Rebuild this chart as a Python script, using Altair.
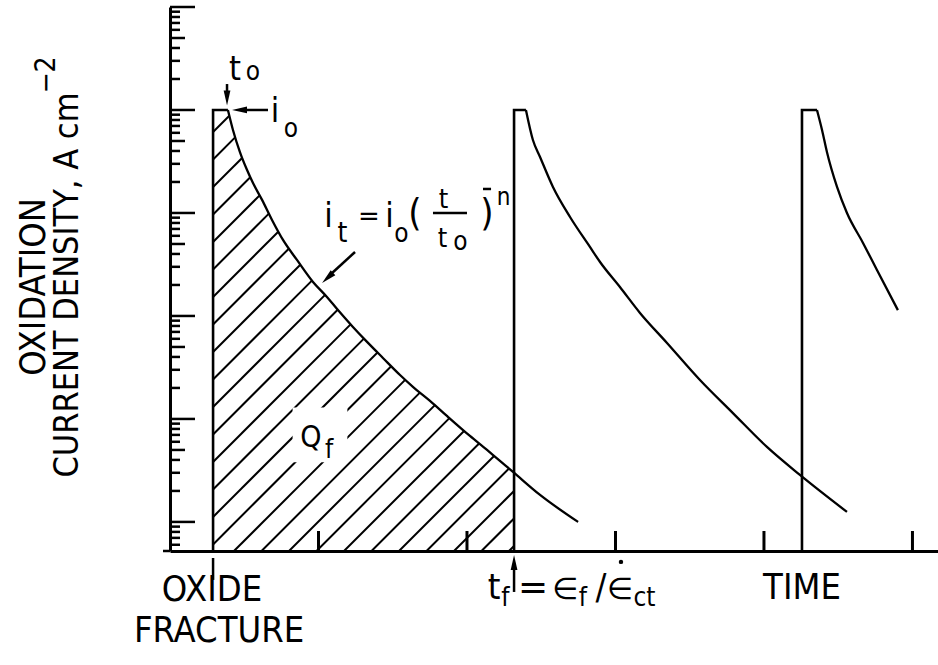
import math
import numpy as np
import pandas as pd
import altair as alt

# ---------------- data ----------------
# time in arbitrary units (x ticks at 1..5), current density on a log axis
T_MAX = 5.172
I_TOP = 1e-1
I_BOTTOM = 5.22e-7
I_PEAK = 1e-2          # i_o

pulse_start = [0.29, 2.317, 4.256]     # oxide fracture instants

curve1_t = [0.39, 0.424, 0.471, 0.519, 0.559, 0.62, 0.687, 0.761, 0.855, 0.963,
            1.057, 1.131, 1.232, 1.327, 1.434, 1.549, 1.636, 1.751, 1.865, 2.02,
            2.135, 2.202, 2.31, 2.492, 2.748]
curve1_i = [1.0e-2, 6.4e-3, 3.9e-3, 2.61e-3, 1.95e-3, 1.34e-3, 8.55e-4, 5.47e-4,
            3.5e-4, 2.14e-4, 1.53e-4, 1.14e-4, 7.82e-5, 5.6e-5, 3.91e-5, 2.67e-5,
            2.05e-5, 1.5e-5, 1.07e-5, 6.84e-6, 5.0e-6, 4.14e-6, 3.06e-6, 1.83e-6, 1.0e-6]

curve2_t = [2.397, 2.444, 2.492, 2.579, 2.694, 2.828, 2.896, 3.03, 3.165, 3.347,
            3.569, 3.791, 4.02, 4.242, 4.559]
curve2_i = [1.0e-2, 5.11e-3, 3.5e-3, 1.79e-3, 9.14e-4, 4.68e-4, 3.34e-4, 1.91e-4,
            1.07e-4, 5.47e-5, 2.39e-5, 1.14e-5, 5.35e-6, 2.86e-6, 1.25e-6]

curve3_t = [4.357, 4.391, 4.424, 4.492, 4.559, 4.667, 4.761, 4.902]
curve3_i = [1.0e-2, 6.4e-3, 3.91e-3, 1.79e-3, 1.0e-3, 5.12e-4, 2.80e-4, 1.14e-4]

x_tick_values = [1, 2, 3, 4, 5]

# ---------------- layout / style ----------------
W, H = 768, 544
FONT = "Liberation Sans Narrow, Arial Narrow, DejaVu Sans Condensed, sans-serif"
FONT_SYM = "DejaVu Sans"
BLACK = "#000000"
ARROW = "M0,-1L0.45,1L-0.45,1Z"

LOG_TOP = math.log10(I_TOP)
LOG_BOT = math.log10(I_BOTTOM)


def to_px(t, i):
    return t / T_MAX * W, (LOG_TOP - math.log10(i)) / (LOG_TOP - LOG_BOT) * H


def from_px(x, y):
    return x / W * T_MAX, 10 ** (LOG_TOP - y / H * (LOG_TOP - LOG_BOT))


x_scale = alt.Scale(domain=[0, T_MAX], nice=False, zero=False)
y_scale = alt.Scale(type="log", domain=[I_BOTTOM, I_TOP], nice=False)
x_axis = alt.Axis(title=None, labels=False, ticks=False, grid=False,
                  domainColor=BLACK, domainWidth=3)
y_axis = alt.Axis(title=None, labels=False, ticks=False, grid=False,
                  domainColor=BLACK, domainWidth=3)


def X(f):
    return alt.X(f, type="quantitative", scale=x_scale, axis=x_axis)


def Y(f):
    return alt.Y(f, type="quantitative", scale=y_scale, axis=y_axis)


# ---------------- frames (vertical rise + flat top) and decays ----------------
frows, crows = [], []
for p, (s, ct, ci) in enumerate(zip(pulse_start, [curve1_t, curve2_t, curve3_t],
                                    [curve1_i, curve2_i, curve3_i])):
    frows += [dict(pulse=p, ord=0, t=s, i=I_BOTTOM), dict(pulse=p, ord=1, t=s, i=I_PEAK),
              dict(pulse=p, ord=2, t=ct[0], i=ci[0])]
    for k, (t, i) in enumerate(zip(ct, ci)):
        crows.append(dict(pulse=p, ord=k, t=t, i=i))
frame_df = pd.DataFrame(frows)
curves_df = pd.DataFrame(crows)


# ---------------- hatching of Q_f (45 deg lines clipped to the region) ----------------
# top boundary follows the same monotone-x cubic that Vega draws for the curve
def monotone_tangents(xs, ys):
    n = len(xs)
    tg = [0.0] * n
    for k in range(1, n - 1):
        h0, h1 = xs[k] - xs[k - 1], xs[k + 1] - xs[k]
        s0, s1 = (ys[k] - ys[k - 1]) / h0, (ys[k + 1] - ys[k]) / h1
        pp = (s0 * h1 + s1 * h0) / (h0 + h1)
        tg[k] = (np.sign(s0) + np.sign(s1)) * min(abs(s0), abs(s1), 0.5 * abs(pp))
    tg[0] = (3 * (ys[1] - ys[0]) / (xs[1] - xs[0]) - tg[1]) / 2
    tg[-1] = (3 * (ys[-1] - ys[-2]) / (xs[-1] - xs[-2]) - tg[-2]) / 2
    return tg


CP = [to_px(t, i) for t, i in zip(curve1_t, curve1_i)]
cx = [p[0] for p in CP]
cy = [p[1] for p in CP]
ctg = monotone_tangents(cx, cy)
xl = to_px(pulse_start[0], I_PEAK)[0]
xr = to_px(pulse_start[1], I_PEAK)[0]
y_peak = to_px(0, I_PEAK)[1]


def top(x):
    if x <= cx[0]:
        return y_peak
    k = min(int(np.searchsorted(cx, x)) - 1, len(cx) - 2)
    dx = cx[k + 1] - cx[k]
    u = (x - cx[k]) / dx
    y0, y1 = cy[k], cy[k + 1]
    c0, c1 = y0 + dx * ctg[k] / 3, y1 - dx * ctg[k + 1] / 3
    return (1 - u) ** 3 * y0 + 3 * (1 - u) ** 2 * u * c0 + 3 * (1 - u) * u ** 2 * c1 + u ** 3 * y1


def g(x):
    return x + top(x)


HATCH_GAP = 27.5
HATCH_PHASE = 498.0
hrows = []
k0 = math.ceil((g(xl) - HATCH_PHASE) / HATCH_GAP)
k1 = math.floor((xr + H - HATCH_PHASE) / HATCH_GAP)
for k in range(k0, k1 + 1):
    c = HATCH_PHASE + k * HATCH_GAP
    if c - xl <= H:
        xa, ya = xl, c - xl
    else:
        xa, ya = c - H, H
    if g(xr) <= c:
        xb, yb = xr, c - xr
    else:
        lo, hi = xa, xr
        for _ in range(60):
            mid = (lo + hi) / 2
            if g(mid) < c:
                lo = mid
            else:
                hi = mid
        xb, yb = lo, top(lo)
    if xb - xa > 0.5:
        t1, i1 = from_px(xa, ya)
        t2, i2 = from_px(xb, yb)
        hrows.append(dict(t=t1, i=i1, t2=t2, i2=i2))
hatch_df = pd.DataFrame(hrows)

# ---------------- axis ticks (inward) ----------------
ytick = []
for e in range(-7, -1):
    for k in range(1, 10):
        v = k * 10.0 ** e
        if I_BOTTOM <= v <= I_TOP:
            ytick.append(dict(v=v, cls="major" if k == 1 else ("mid" if k == 5 else "minor")))
ytick.append(dict(v=I_TOP, cls="major"))
ytick_df = pd.DataFrame(ytick)
xtick_df = pd.DataFrame(dict(t=x_tick_values))

# ---------------- annotations (positions in data units: t, log10 i) ----------------
ann = [
    # text, t, log10(i), size, angle, font
    ("t", 0.438, -1.709, 34, 0, FONT), ("o", 0.559, -1.709, 26, 0, FONT),
    ("i", 0.707, -2.117, 34, 0, FONT), ("o", 0.815, -2.262, 26, 0, FONT),
    ("i", 1.067, -3.136, 34, 0, FONT), ("t", 1.162, -3.282, 28, 0, FONT),
    ("=", 1.340, -3.117, 26, 0, FONT_SYM),
    ("i", 1.478, -3.136, 34, 0, FONT), ("o", 1.559, -3.282, 26, 0, FONT),
    ("(", 1.650, -3.117, 38, 0, FONT), (")", 2.135, -3.117, 38, 0, FONT),
    ("t", 1.842, -2.951, 27, 0, FONT), ("t", 1.835, -3.330, 27, 0, FONT),
    ("o", 1.956, -3.359, 26, 0, FONT), ("n", 2.246, -2.922, 24, 0, FONT),
    ("Q", 0.949, -5.272, 30, 0, FONT), ("f", 1.071, -5.379, 26, 0, FONT),
    ("OXIDE", 0.283, -6.767, 36, 0, FONT), ("FRACTURE", 0.330, -7.165, 36, 0, FONT),
    ("TIME", 4.256, -6.748, 36, 0, FONT),
    ("t", 2.182, -6.748, 36, 0, FONT), ("f", 2.258, -6.816, 26, 0, FONT),
    ("=", 2.445, -6.748, 36, 0, FONT_SYM), ("∈", 2.660, -6.748, 30, 0, FONT_SYM),
    ("f", 2.781, -6.816, 26, 0, FONT), ("/", 2.902, -6.748, 36, 0, FONT),
    ("∈", 3.030, -6.748, 30, 0, FONT_SYM), ("ct", 3.195, -6.816, 26, 0, FONT),
    ("OXIDATION", -0.842, -3.718, 36, 270, FONT),
    ("CURRENT DENSITY, A cm", -0.620, -3.700, 34, 270, FONT),
    ("−2", -0.774, -1.660, 28, 270, FONT),
]
ann_df = pd.DataFrame([dict(text=a, t=b, i=10 ** c, size=d, angle=e, font=f)
                       for a, b, c, d, e, f in ann])

segs = [
    (0.384, -1.748, 0.384, -1.874),     # t_o arrow
    (0.505, -2.0, 0.660, -2.0),         # i_o arrow
    (1.246, -3.379, 1.077, -3.602),     # formula arrow
    (1.771, -3.0, 2.0, -3.0),           # fraction bar
    (2.108, -2.767, 2.162, -2.767),     # minus of exponent
    (0.29, -6.350, 0.29, -6.563),       # fracture marker
    (2.317, -6.466, 2.317, -6.680),     # t_f arrow
    (-0.047, math.log10(I_BOTTOM), 0.0, math.log10(I_BOTTOM)),  # axis overshoot
]
seg_df = pd.DataFrame([dict(t=a, i=10 ** b, t2=c, i2=10 ** d) for a, b, c, d in segs])
heads = [(0.384, -1.883, 180), (0.468, -2.0, 270), (1.061, -3.630, 226.8), (2.317, -6.393, 0)]
head_df = pd.DataFrame([dict(t=a, i=10 ** b, ang=c) for a, b, c in heads])
dot_df = pd.DataFrame([dict(t=3.037, i=10 ** -6.388)])
box_df = pd.DataFrame([dict(t=1.010, i=10 ** -5.155)])

# ---------------- layers ----------------
hatch = alt.Chart(hatch_df).mark_rule(color=BLACK, strokeWidth=2).encode(
    x=X("t"), y=Y("i"), x2="t2", y2="i2")
box = alt.Chart(box_df).mark_point(shape="square", filled=True, color="white",
                                   size=3000, opacity=1).encode(x=X("t"), y=Y("i"))
frames = alt.Chart(frame_df).mark_line(color=BLACK, strokeWidth=2.6).encode(
    x=X("t"), y=Y("i"), detail="pulse:N", order="ord:Q")
curves = alt.Chart(curves_df).mark_line(color=BLACK, strokeWidth=2.3,
                                        interpolate="monotone").encode(
    x=X("t"), y=Y("i"), detail="pulse:N", order="ord:Q")


def ytick_layer(cls, length):
    return alt.Chart(ytick_df[ytick_df.cls == cls]).mark_rule(
        color=BLACK, strokeWidth=2.5).encode(y=Y("v"), x=alt.value(0), x2=alt.value(length))


xticks = alt.Chart(xtick_df).mark_rule(color=BLACK, strokeWidth=3).encode(
    x=X("t"), y=alt.value(H), y2=alt.value(H - 20))
arrows = alt.Chart(seg_df).mark_rule(color=BLACK, strokeWidth=2.5).encode(
    x=X("t"), y=Y("i"), x2="t2", y2="i2")
arrowheads = alt.Chart(head_df).mark_point(shape=ARROW, filled=True, color=BLACK,
                                           size=225, opacity=1).encode(
    x=X("t"), y=Y("i"), angle=alt.Angle("ang:Q", scale=None))
dot = alt.Chart(dot_df).mark_point(shape="circle", filled=True, color=BLACK,
                                   size=20, opacity=1).encode(x=X("t"), y=Y("i"))


def text_layer(font):
    return alt.Chart(ann_df[ann_df.font == font]).mark_text(
        font=font, align="center", baseline="alphabetic", color=BLACK).encode(
        x=X("t"), y=Y("i"), text="text:N", size=alt.Size("size:Q", scale=None),
        angle=alt.Angle("angle:Q", scale=None))


chart = alt.layer(
    hatch, box, frames, curves,
    ytick_layer("major", 25), ytick_layer("mid", 15), ytick_layer("minor", 10),
    xticks, arrows, arrowheads, dot, text_layer(FONT), text_layer(FONT_SYM),
).properties(
    width=W, height=H,
    autosize=alt.AutoSizeParams(type="none"),
    padding={"left": 170, "top": 7, "right": 0, "bottom": 114},
    background="white",
).configure_view(stroke=None)

chart.save("out.html", embed_options={"renderer": "svg", "actions": False})
